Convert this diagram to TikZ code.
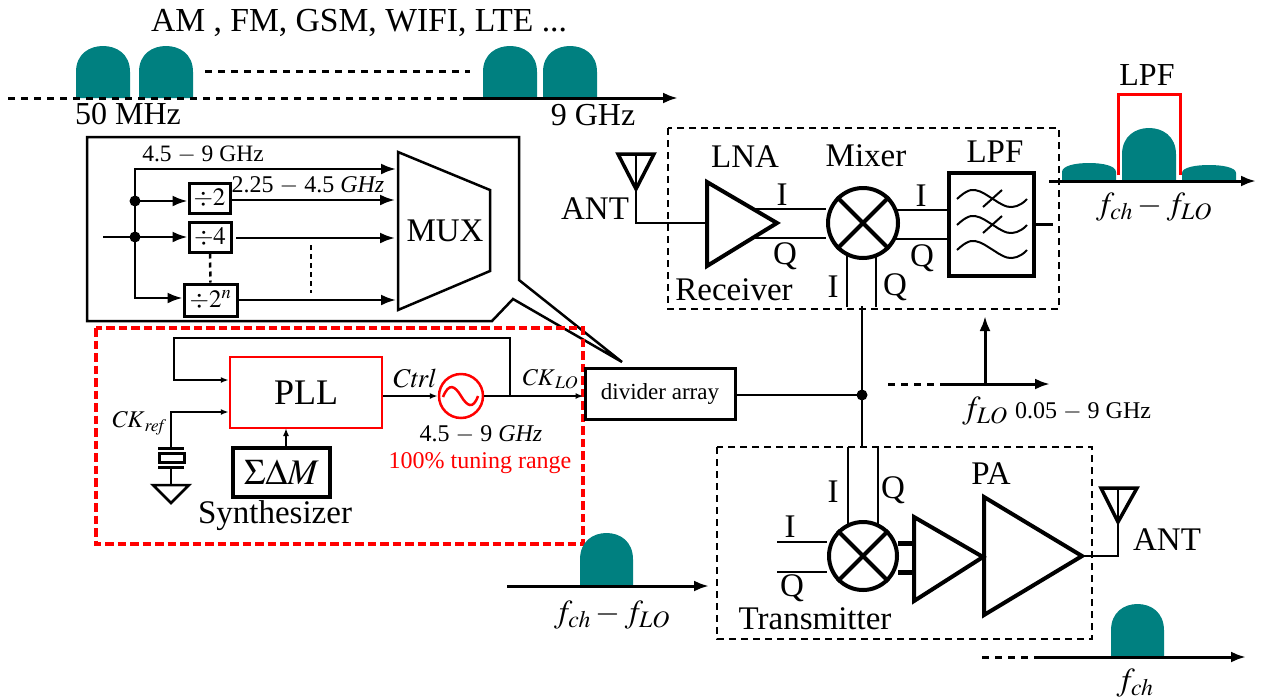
\documentclass[tikz,border=0pt]{standalone}
\usepackage{mathptmx}
\usepackage[no-math]{fontspec}
\setmainfont{Liberation Serif}
\usetikzlibrary{arrows.meta}
\newcommand{\fsz}[1]{\fontsize{#1}{#1}\selectfont}
\newcommand{\bumpat}[4]{\fill[teal] (#1,#2) -- (#1,{#2-0.5*#4}) .. controls (#1,{#2-0.85*#4}) and ({#1+0.25*#3},{#2-#4}) .. ({#1+0.5*#3},{#2-#4}) .. controls ({#1+0.75*#3},{#2-#4}) and ({#1+#3},{#2-0.85*#4}) .. ({#1+#3},{#2-0.5*#4}) -- ({#1+#3},#2) -- cycle;}
\tikzset{
    txtbig/.style={inner sep=0pt, font=\fsz{33}},
    txtmid/.style={inner sep=0pt, font=\fsz{32}},
    txtsmall/.style={inner sep=0pt, font=\fsz{24}},
    wire/.style={line width=2.5pt},
    thinwire/.style={line width=2pt},
    thick block/.style={line width=4pt},
    dividerbox/.style={draw, line width=3pt, fill=white, inner sep=0pt, font=\fsz{25}},
    dashbox/.style={line width=2.5pt, dash pattern=on 7pt off 5pt},
    axisdash/.style={line width=3pt, dash pattern=on 7pt off 6pt},
    >={Latex[length=15pt,width=11pt]},
    small tip/.style={>={Latex[length=8pt,width=6pt]}},
}
\begin{document}
\begin{tikzpicture}[x=1pt,y=-1pt]
    \useasboundingbox (0,0) rectangle (1268,699);
    % top spectrum
    \foreach \x in {76,139,483,543} {\bumpat{\x}{98}{54}{52}}
    \draw[axisdash] (8,98) -- (470,98);
    \draw[axisdash] (205,71) -- (470,71);
    \draw[line width=3pt,->] (470,98) -- (678,98);
    \node[txtmid, font=\fsz{33.6}] (bands) at (359,23) {AM , FM, GSM, WIFI, LTE ...};
    \node[txtmid] (lowedge) at (128,114) {50 MHz};
    \node[txtmid] (highedge) at (593,115) {9 GHz};

    % divider array detail
    \draw[wire, line join=miter] (87,321) -- (87,137) -- (519,137) -- (519,280) -- (622,362) -- (513,299) -- (492,321) -- cycle;
    \draw[wire] (398,152) -- (490,190) -- (490,271) -- (398,310) -- cycle;
    \node[txtbig] (mux) at (445,231) {MUX};
    \node[dividerbox, minimum width=41, minimum height=30] (div2) at (209.5,198) {$\div 2$};
    \node[dividerbox, minimum width=42, minimum height=30] (div4) at (210,237) {$\div 4$};
    \node[dividerbox, minimum width=53, minimum height=32] (divn) at (210.5,300) {$\div 2^n$};
    \coordinate (split) at (135,237);
    \coordinate (tap) at (135,201);
    \draw[wire,->] (103,237) -- (div4.west);
    \draw[wire,->] (tap) -- (div2.west |- tap);
    \draw[wire,->] (135,298) -- (split |- 0,169) -- (396,169);
    \draw[wire,->] (135,237) -- (135,298) -- (divn.west |- 0,298);
    \draw[wire,->] (div2.east |- 0,200) -- (395,200);
    \draw[wire,->] (236,238) -- (395,238);
    \draw[wire,->] (divn.east |- 0,300) -- (396,300);
    \fill (tap) circle (5.5);
    \fill (split) circle (5.5);
    \draw[line width=2.5pt, dash pattern=on 5pt off 4pt] (div4.south) -- (divn.north);
    \draw[line width=2.5pt, dash pattern=on 5pt off 4pt] (311,245) -- (311,293);
    \node[txtsmall, font=\fsz{23.5}] (fullband) at (203,155) {4.5 $-$ 9 GHz};
    \node[txtsmall] (halfband) at (308,186) {2.25 $-$ 4.5 \textit{GHz}};

    % synthesizer
    \draw[red, line width=4pt, dash pattern=on 8.5pt off 4pt] (96,328) rectangle (583,544);
    \node[draw=red, line width=2.5pt, minimum width=152, minimum height=71, inner sep=0pt, font=\fsz{36}] (pll) at (306,392.5) {PLL};
    \node[draw, line width=4.5pt, minimum width=97, minimum height=49, inner sep=0pt, font=\fsz{36}] (sdm) at (281.5,472.5) {$\Sigma\Delta M$};
    \node[draw=red, circle, line width=2.5pt, minimum size=44, inner sep=0pt] (vco) at (461,396) {};
    \node[dividerbox, minimum width=150, minimum height=51, font=\fsz{23}] (divider) at (660,394) {divider array};
    \draw[red, line width=2.5pt] (443,397) .. controls (449,382) and (455,386) .. (461,396) .. controls (467,406) and (473,410) .. (478,396);
    \draw[thinwire,small tip,->] (pll.east |- vco) -- (vco.west);
    \draw[thinwire,small tip,->] (vco.east) -- (divider.west |- vco);
    \draw[thinwire,small tip,->] (510,396) -- (510,338) -- (174,338) -- (174,380) -- (pll.west |- 0,380);
    \draw[thinwire,small tip,->] (286,448) -- (286,428);
    \draw[thinwire,small tip,->] (171,448) -- (171,412) -- (pll.west |- 0,412);
    \draw[line width=3pt] (158,448) -- (184,448);
    \draw[line width=3pt] (159,453) rectangle (184,462);
    \draw[line width=3pt] (158,467) -- (184,467);
    \draw[thinwire] (171,467) -- (171,485);
    \draw[wire] (153,485) -- (189,485) -- (171,503) -- cycle;
    \node[txtsmall] (ckref) at (139,423) {$\mathit{CK}_{\mathit{ref}}$};
    \node[txtsmall, font=\fsz{27}] (ctrl) at (414,378) {$\mathit{Ctrl}$};
    \node[txtsmall] (cklo) at (550,379) {$\mathit{CK}_{\mathit{LO}}$};
    \node[txtsmall] (vcoband) at (481,435) {4.5 $-$ 9 \textit{GHz}};
    \node[txtsmall, red] (tuning) at (480,463) {100\% tuning range};
    \node[txtbig] (synth) at (275,516) {Synthesizer};

    % receiver
    \draw[dashbox] (668,128) rectangle (1059,309);
    \coordinate (rxant) at (636,189);
    \draw[line width=3.5pt, line join=miter] (618,154) -- (654,154) -- (rxant) -- cycle;
    \draw[wire] (636,154) -- (rxant) -- (636,223) -- (707,223);
    \draw[thick block] (707,182) -- (777,223) -- (707,266) -- cycle;
    \node[draw, circle, thick block, minimum size=70, inner sep=0pt] (rxmix) at (863,223) {};
    \draw[thick block] (rxmix.45) -- (rxmix.225);
    \draw[thick block] (rxmix.135) -- (rxmix.315);
    \node[draw, thick block, minimum width=85, minimum height=103, inner sep=0pt] (lpf) at (991.5,224.5) {};
    \foreach \y in {199,225,250} {
        \draw[thinwire] plot[smooth, tension=.7] coordinates {(957,\y) (966,{\y-7}) (975,{\y-9}) (985,{\y-5}) (993,\y) (1003,{\y+6}) (1012,{\y+8}) (1021,{\y+5}) (1027,\y)};
    }
    \draw[thinwire] (983,207) -- (1002,190);
    \draw[thinwire] (983,233) -- (1002,216);
    \draw[wire] (755,209) -- (rxmix.west |- 0,209);
    \draw[wire] (755,238) -- (rxmix.west |- 0,238);
    \draw[wire] (897,210) -- (lpf.west |- 0,210);
    \draw[wire] (894,239) -- (lpf.west |- 0,239);
    \draw[wire] (lpf.east) -- (1053,224.5);
    \draw[wire] (847,255) -- (847,307);
    \draw[wire] (876,255) -- (876,307);
    \node[txtbig] (ant1) at (595,209) {ANT};
    \node[txtbig] (lna) at (745,157) {LNA};
    \node[txtbig] (mixerlab) at (866,156) {Mixer};
    \node[txtbig] (lpflab) at (995,152) {LPF};
    \node[txtbig] (rxlab) at (734,290) {Receiver};
    \node[txtbig] (rxi1) at (782,195) {I};
    \node[txtbig] (rxq1) at (785,256) {Q};
    \node[txtbig] (rxi2) at (921,196) {I};
    \node[txtbig] (rxq2) at (922,258) {Q};
    \node[txtbig] (rxi3) at (833,287) {I};
    \node[txtbig] (rxq3) at (895,287) {Q};

    % receiver output spectrum
    \bumpat{1062}{181}{54}{18}
    \bumpat{1122}{181}{54}{53}
    \bumpat{1182}{181}{54}{16}
    \draw[line width=3pt,->] (1049,181) -- (1256,181);
    \draw[red, line width=3pt] (1118,175) -- (1118,94) -- (1180,94) -- (1180,175);
    \node[txtmid] (lpftop) at (1147,75) {LPF};
    \node[txtmid] (rxif) at (1154,207) {$f_{ch}-f_{LO}$};

    % local oscillator
    \coordinate (lodot) at (862,395);
    \draw[wire] (divider.east |- lodot) -- (lodot);
    \draw[wire] (862,306) -- (862,447);
    \fill (lodot) circle (5.5);
    \draw[axisdash] (888,384) -- (945,384);
    \draw[line width=3pt,->] (945,384) -- (1050,384);
    \draw[line width=3pt,->] (985,384) -- (985,316);
    \node[txtmid] (flo) at (985,411) {$f_{LO}$};
    \node[txtsmall] (loband) at (1083,412) {0.05 $-$ 9 GHz};

    % transmitter
    \draw[dashbox] (717,447) rectangle (1092,639);
    \node[draw, circle, thick block, minimum size=68, inner sep=0pt] (txmix) at (863,556) {};
    \draw[thick block] (txmix.45) -- (txmix.225);
    \draw[thick block] (txmix.135) -- (txmix.315);
    \draw[wire] (848,447) -- (848,525);
    \draw[wire] (878,447) -- (878,525);
    \draw[wire] (777,542) -- (txmix.west |- 0,542);
    \draw[wire] (777,572) -- (txmix.west |- 0,572);
    \draw[line width=5pt] (898,543) -- (915,543);
    \draw[line width=5pt] (898,572) -- (915,572);
    \draw[thick block] (914,517) -- (983,557) -- (914,601) -- cycle;
    \draw[thick block] (984,497) -- (1082,556) -- (984,615) -- cycle;
    \coordinate (txant) at (1118,522);
    \draw[wire] (1082,556) -- (1118,556) -- (txant) -- (1118,488);
    \draw[line width=3.5pt, line join=miter] (1101,488) -- (1137,488) -- (txant) -- cycle;
    \node[txtbig] (palab) at (991,474) {PA};
    \node[txtbig] (ant2) at (1167,540) {ANT};
    \node[txtbig] (txi1) at (833,492) {I};
    \node[txtbig] (txq1) at (893,490) {Q};
    \node[txtbig] (txi2) at (790,527) {I};
    \node[txtbig] (txq2) at (792,588) {Q};
    \node[txtbig] (txlab) at (815,619) {Transmitter};

    % transmitter spectra
    \bumpat{580}{586}{53}{53}
    \draw[line width=3pt,->] (507,586) -- (709,586);
    \node[txtmid] (txif) at (612,615) {$f_{ch}-f_{LO}$};
    \bumpat{1111}{657}{53}{53}
    \draw[axisdash] (982,657) -- (1038,657);
    \draw[line width=3pt,->] (1038,657) -- (1246,657);
    \node[txtmid] (fch) at (1135,683) {$f_{ch}$};
\end{tikzpicture}
\end{document}
